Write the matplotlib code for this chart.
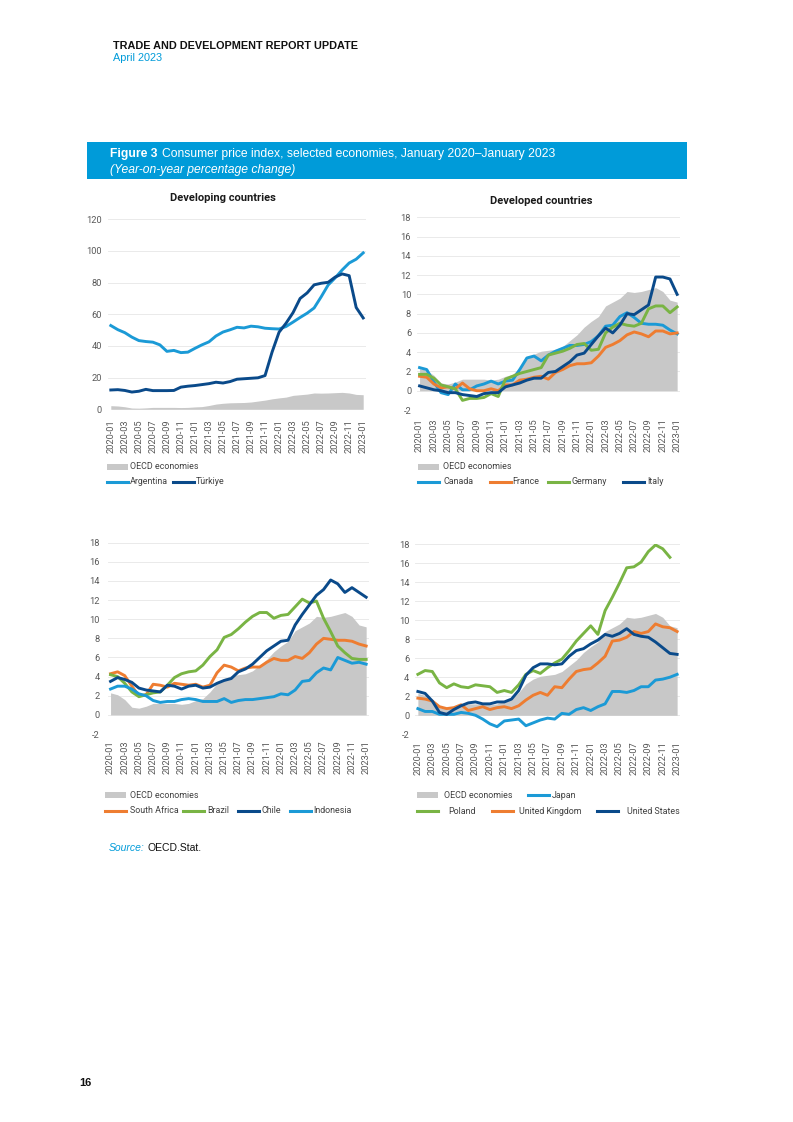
import numpy as np
import matplotlib.pyplot as plt
from matplotlib.lines import Line2D
from matplotlib.patches import Rectangle

W, H = 793, 1122

months = [f"{y}-{m:02d}" for y in (2020, 2021, 2022) for m in range(1, 13)] + ["2023-01"]

# year-on-year CPI change, %, Jan 2020 - Jan 2023
oecd = [2.3, 2.1, 1.6, 0.8, 0.7, 0.9, 1.2, 1.2, 1.2, 1.2, 1.1, 1.2,
        1.5, 1.7, 2.4, 3.3, 3.8, 4.1, 4.2, 4.3, 4.6, 5.2, 5.8, 6.6,
        7.2, 7.7, 8.8, 9.2, 9.6, 10.3, 10.2, 10.3, 10.5, 10.7, 10.3, 9.4, 9.2]

argentina = [52.9, 50.3, 48.4, 45.6, 43.4, 42.8, 42.4, 40.7, 36.6, 37.2, 35.8, 36.1,
             38.5, 40.7, 42.6, 46.3, 48.8, 50.2, 51.8, 51.4, 52.5, 52.1, 51.2, 50.9,
             50.7, 52.3, 55.1, 58.0, 60.7, 64.0, 71.0, 78.5, 83.0, 88.0, 92.4, 94.8, 98.8]
turkiye = [12.2, 12.4, 11.9, 10.9, 11.4, 12.6, 11.8, 11.8, 11.8, 11.9, 14.0, 14.6,
           15.0, 15.6, 16.2, 17.1, 16.6, 17.5, 19.0, 19.3, 19.6, 19.9, 21.3, 36.1,
           48.7, 54.4, 61.1, 70.0, 73.5, 78.6, 79.6, 80.2, 83.5, 85.5, 84.4, 64.3, 57.7]

canada = [2.4, 2.2, 0.9, -0.2, -0.4, 0.7, 0.1, 0.1, 0.5, 0.7, 1.0, 0.7,
          1.0, 1.1, 2.2, 3.4, 3.6, 3.1, 3.7, 4.1, 4.4, 4.7, 4.7, 4.8,
          5.1, 5.7, 6.7, 6.8, 7.7, 8.1, 7.6, 7.0, 6.9, 6.9, 6.8, 6.3, 5.9]
france = [1.5, 1.4, 0.7, 0.3, 0.4, 0.2, 0.8, 0.2, 0.0, 0.0, 0.2, 0.0,
          0.6, 0.6, 1.1, 1.2, 1.4, 1.5, 1.2, 1.9, 2.2, 2.6, 2.8, 2.8,
          2.9, 3.6, 4.5, 4.8, 5.2, 5.8, 6.1, 5.9, 5.6, 6.2, 6.2, 5.9, 6.0]
germany = [1.7, 1.7, 1.3, 0.6, 0.4, 0.2, -1.0, -0.8, -0.8, -0.7, -0.3, -0.6,
           1.2, 1.5, 1.8, 2.0, 2.2, 2.4, 3.7, 3.9, 4.1, 4.4, 4.8, 4.9,
           4.2, 4.3, 6.0, 6.6, 7.0, 6.8, 6.7, 7.0, 8.5, 8.8, 8.8, 8.1, 8.7]
italy = [0.5, 0.3, 0.1, 0.0, -0.2, -0.2, -0.4, -0.5, -0.6, -0.3, -0.2, -0.2,
         0.4, 0.6, 0.8, 1.1, 1.3, 1.3, 1.9, 2.0, 2.5, 3.0, 3.7, 3.9,
         4.8, 5.7, 6.5, 6.0, 6.8, 8.0, 7.9, 8.4, 8.9, 11.8, 11.8, 11.6, 10.0]

south_africa = [4.3, 4.5, 4.1, 3.0, 2.0, 2.1, 3.2, 3.1, 2.9, 3.3, 3.2, 3.1,
                3.2, 2.9, 3.1, 4.4, 5.2, 5.0, 4.6, 4.9, 5.0, 5.0, 5.5, 5.9,
                5.7, 5.7, 6.1, 5.9, 6.5, 7.4, 8.0, 7.9, 7.8, 7.8, 7.7, 7.4, 7.2]
brazil = [4.2, 4.0, 3.3, 2.4, 1.9, 2.1, 2.3, 2.4, 3.1, 3.9, 4.3, 4.5,
          4.6, 5.2, 6.1, 6.8, 8.1, 8.4, 9.0, 9.7, 10.3, 10.7, 10.7, 10.1,
          10.4, 10.5, 11.3, 12.1, 11.7, 11.9, 10.1, 8.7, 7.2, 6.5, 5.9, 5.8, 5.8]
chile = [3.5, 3.9, 3.7, 3.4, 2.8, 2.6, 2.5, 2.4, 3.1, 3.0, 2.7, 3.0,
         3.1, 2.8, 2.9, 3.3, 3.6, 3.8, 4.5, 4.8, 5.3, 6.0, 6.7, 7.2,
         7.7, 7.8, 9.4, 10.5, 11.5, 12.5, 13.1, 14.1, 13.7, 12.8, 13.3, 12.8, 12.3]
indonesia = [2.7, 3.0, 3.0, 2.7, 2.2, 2.0, 1.5, 1.3, 1.4, 1.4, 1.6, 1.7,
             1.6, 1.4, 1.4, 1.4, 1.7, 1.3, 1.5, 1.6, 1.6, 1.7, 1.8, 1.9,
             2.2, 2.1, 2.6, 3.5, 3.6, 4.4, 4.9, 4.7, 6.0, 5.7, 5.4, 5.5, 5.3]

japan = [0.7, 0.4, 0.4, 0.1, 0.1, 0.1, 0.3, 0.2, 0.0, -0.4, -0.9, -1.2,
         -0.6, -0.5, -0.4, -1.1, -0.8, -0.5, -0.3, -0.4, 0.2, 0.1, 0.6, 0.8,
         0.5, 0.9, 1.2, 2.5, 2.5, 2.4, 2.6, 3.0, 3.0, 3.7, 3.8, 4.0, 4.3]
poland = [4.3, 4.7, 4.6, 3.4, 2.9, 3.3, 3.0, 2.9, 3.2, 3.1, 3.0, 2.4,
          2.6, 2.4, 3.2, 4.3, 4.7, 4.4, 5.0, 5.5, 5.9, 6.8, 7.8, 8.6,
          9.4, 8.5, 11.0, 12.4, 13.9, 15.5, 15.6, 16.1, 17.2, 17.9, 17.5, 16.6, np.nan]
united_kingdom = [1.8, 1.7, 1.5, 0.9, 0.7, 0.8, 1.1, 0.5, 0.7, 0.9, 0.6, 0.8,
                  0.9, 0.7, 1.0, 1.6, 2.1, 2.4, 2.1, 3.0, 2.9, 3.8, 4.6, 4.8,
                  4.9, 5.5, 6.2, 7.8, 7.9, 8.2, 8.8, 8.6, 8.8, 9.6, 9.3, 9.2, 8.8]
united_states = [2.5, 2.3, 1.5, 0.3, 0.1, 0.6, 1.0, 1.3, 1.4, 1.2, 1.2, 1.4,
                 1.4, 1.7, 2.6, 4.2, 5.0, 5.4, 5.4, 5.3, 5.4, 6.2, 6.8, 7.0,
                 7.5, 7.9, 8.5, 8.3, 8.6, 9.1, 8.5, 8.3, 8.2, 7.7, 7.1, 6.5, 6.4]

BLUE = '#1b9ad6'
NAVY = '#0a4a8a'
ORANGE = '#ee7d31'
GREEN = '#79b444'
GREY = '#c8c8c8'
BANNER = '#009bd9'
TXT = '#404040'

plt.rcParams['font.family'] = ['Roboto', 'DejaVu Sans']
plt.rcParams['axes.unicode_minus'] = False

fig = plt.figure(figsize=(W / 100, H / 100), dpi=100)
x = np.arange(len(months))


def fx(px):
    return px / W


def fy(py):
    return 1 - py / H


def make_ax(left, top, right, bottom, ylim, yticks, xpad, ypad):
    ax = fig.add_axes([fx(left), fy(bottom), (right - left) / W, (bottom - top) / H])
    ax.set_xlim(-0.4, len(months) - 0.6)
    ax.set_ylim(*ylim)
    ax.set_yticks(yticks)
    ax.set_xticks(x[::2])
    ax.set_xticklabels(months[::2], rotation=90)
    ax.tick_params(axis='both', length=0, labelsize=6.7, labelcolor='#595959')
    ax.tick_params(axis='x', pad=xpad)
    ax.tick_params(axis='y', pad=ypad)
    for s in ax.spines.values():
        s.set_visible(False)
    ax.grid(axis='y', color='#e6e6e6', lw=0.6)
    ax.set_axisbelow(True)
    ax.fill_between(x, oecd, color=GREY, lw=0)
    return ax


def legend_item(x0, y, kind, color, label, tx):
    if kind == 'patch':
        fig.add_artist(Rectangle((fx(x0), fy(y + 3)), 21 / W, 6 / H,
                                 transform=fig.transFigure, color=color, lw=0))
    else:
        fig.add_artist(Line2D([fx(x0), fx(x0 + 21)], [fy(y), fy(y)],
                              transform=fig.transFigure, color=color, lw=2.2))
    fig.text(fx(tx), fy(y), label, fontsize=6.4, color=TXT, va='center', ha='left')


LW = 2.1

# Developing countries
ax1 = make_ax(108, 219.3, 366, 409.3, (0, 120), range(0, 121, 20), 7, 4.3)
ax1.plot(x, argentina, color=BLUE, lw=LW)
ax1.plot(x, turkiye, color=NAVY, lw=LW)
fig.text(fx(223), fy(198), 'Developing countries', fontsize=8, fontweight='bold',
         ha='center', va='center', color='#1a1a1a')
legend_item(107, 466.7, 'patch', GREY, 'OECD economies', 130)
legend_item(107, 481.7, 'line', BLUE, 'Argentina', 130)
legend_item(173, 481.7, 'line', NAVY, 'Türkiye', 196)

# Developed countries
ax2 = make_ax(416.7, 217.3, 680, 410, (-2, 18), range(-2, 19, 2), 6, 4)
ax2.plot(x, canada, color=BLUE, lw=LW)
ax2.plot(x, france, color=ORANGE, lw=LW)
ax2.plot(x, germany, color=GREEN, lw=LW)
ax2.plot(x, italy, color=NAVY, lw=LW)
fig.text(fx(541.7), fy(200.7), 'Developed countries', fontsize=8, fontweight='bold',
         ha='center', va='center', color='#1a1a1a')
legend_item(418, 466.7, 'patch', GREY, 'OECD economies', 443)
legend_item(418, 481.7, 'line', BLUE, 'Canada', 443)
legend_item(490, 481.7, 'line', ORANGE, 'France', 512)
legend_item(548, 481.7, 'line', GREEN, 'Germany', 572)
legend_item(623, 481.7, 'line', NAVY, 'Italy', 647)

# Developing countries (2)
ax3 = make_ax(107.7, 542.7, 369, 734, (-2, 18), range(-2, 19, 2), 4.5, 5.5)
ax3.plot(x, south_africa, color=ORANGE, lw=LW)
ax3.plot(x, brazil, color=GREEN, lw=LW)
ax3.plot(x, chile, color=NAVY, lw=LW)
ax3.plot(x, indonesia, color=BLUE, lw=LW)
legend_item(105, 795, 'patch', GREY, 'OECD economies', 130)
legend_item(105, 810.7, 'line', ORANGE, 'South Africa', 130)
legend_item(183, 810.7, 'line', GREEN, 'Brazil', 207)
legend_item(238, 810.7, 'line', NAVY, 'Chile', 261)
legend_item(290, 810.7, 'line', BLUE, 'Indonesia', 313)

# Developed countries (2)
ax4 = make_ax(415, 544, 680, 734.3, (-2, 18), range(-2, 19, 2), 4.8, 4)
ax4.plot(x, japan, color=BLUE, lw=LW)
ax4.plot(x, poland, color=GREEN, lw=LW)
ax4.plot(x, united_kingdom, color=ORANGE, lw=LW)
ax4.plot(x, united_states, color=NAVY, lw=LW)
legend_item(417, 795, 'patch', GREY, 'OECD economies', 444)
legend_item(528, 795, 'line', BLUE, 'Japan', 552)
legend_item(417, 811, 'line', GREEN, 'Poland', 448)
legend_item(492, 811, 'line', ORANGE, 'United Kingdom', 519)
legend_item(597, 811, 'line', NAVY, 'United States', 627)

# page header and figure banner
head = ['Liberation Sans', 'DejaVu Sans']
fig.text(fx(113), fy(46), 'TRADE AND DEVELOPMENT REPORT UPDATE', family=head,
         fontsize=7.8, fontweight='bold', color='#111111', va='center')
fig.text(fx(113), fy(58.3), 'April 2023', family=head, fontsize=7.8,
         color=BANNER, va='center')
fig.add_artist(Rectangle((fx(87), fy(179.5)), (687 - 87) / W, (179.5 - 142.3) / H,
                         transform=fig.transFigure, color=BANNER, lw=0))

renderer = fig.canvas.get_renderer()
t = fig.text(fx(110), fy(154), 'Figure 3', family=head, fontsize=8.7,
             fontweight='bold', color='white', va='center')
bb = t.get_window_extent(renderer)
fig.text(bb.x1 / W + fx(4), fy(154), 'Consumer price index, selected economies, January 2020–January 2023',
         family=head, fontsize=8.7, color='white', va='center')
fig.text(fx(110), fy(169.5), '(Year-on-year percentage change)', family=head,
         fontsize=8.7, style='italic', color='white', va='center')

s = fig.text(fx(109), fy(848.3), 'Source:', family=head, fontsize=7.5,
             style='italic', color=BANNER, va='center')
bb = s.get_window_extent(renderer)
fig.text(bb.x1 / W + fx(2.5), fy(848.3), 'OECD.Stat.', family=head, fontsize=7.5,
         color='#111111', va='center')

fig.text(fx(79), fy(1083), '16', family=head, fontsize=8, fontweight='bold',
         color='#111111', va='center')

fig.savefig('out.png', dpi=100)
